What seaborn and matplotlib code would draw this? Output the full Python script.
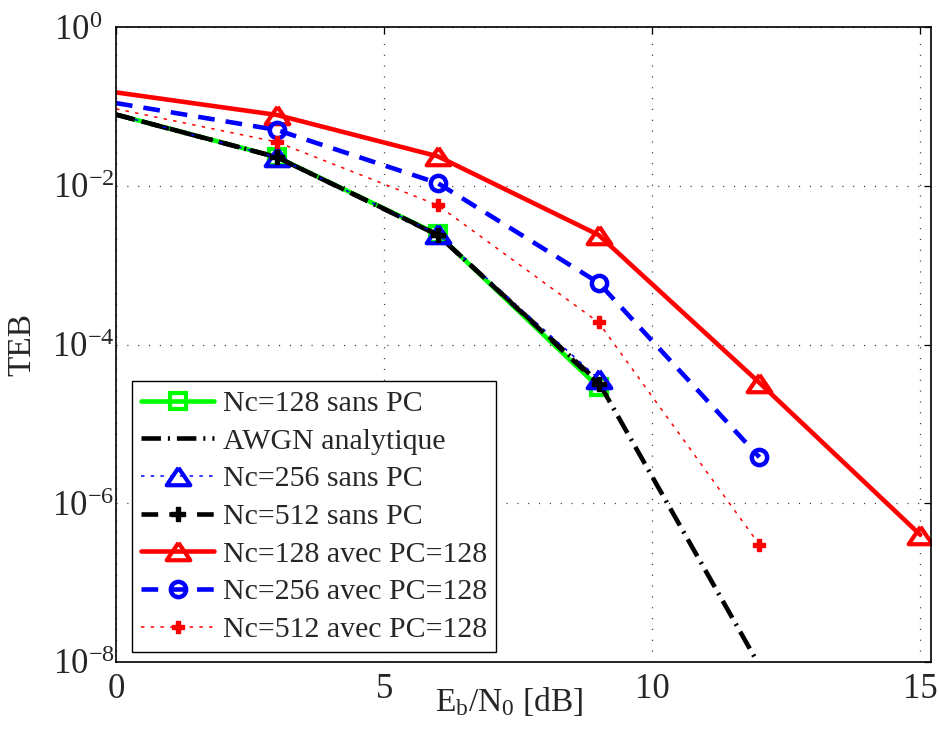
import math
import matplotlib
matplotlib.use("Agg")
import matplotlib.pyplot as plt
import seaborn as sns
from matplotlib.ticker import NullLocator, FuncFormatter
from matplotlib.transforms import ScaledTranslation

# Eb/N0 axes (dB) for each curve
ebn0_sim = [0, 3, 6, 9]
ebn0_awgn = [0, 3, 6, 9, 12]
ebn0_pc128 = [0, 3, 6, 9, 12, 15]
ebn0_pc256 = [0, 3, 6, 9, 12]
ebn0_pc512 = [0, 3, 6, 9, 12]

# bit error rates
teb_nc128 = [0.079, 0.0230, 0.00245, 2.9e-5]
teb_awgn = [7.86e-2, 2.29e-2, 2.39e-3, 3.36e-5, 9.0e-9]
teb_nc256 = [0.079, 0.0228, 0.00245, 3.7e-5]
teb_nc512 = [0.079, 0.0229, 0.00242, 3.2e-5]
teb_nc128_pc = [0.150, 0.078, 0.0235, 0.0024, 3.3e-5, 4.0e-7]
teb_nc256_pc = [0.110, 0.0505, 0.0108, 6.0e-4, 3.8e-6]
teb_nc512_pc = [0.093, 0.0356, 0.0057, 1.9e-4, 3.0e-7]

labels = [
    "Nc=128 sans PC",
    "AWGN analytique",
    "Nc=256 sans PC",
    "Nc=512 sans PC",
    "Nc=128 avec PC=128",
    "Nc=256 avec PC=128",
    "Nc=512 avec PC=128",
]
x_ticks = [0, 5, 10, 15]
y_exponents = [0, -2, -4, -6, -8]

sns.set_style("white")
plt.rcParams["font.family"] = ["Liberation Serif", "DejaVu Serif"]
plt.rcParams["mathtext.fontset"] = "custom"
plt.rcParams["mathtext.rm"] = "Liberation Serif"
plt.rcParams["mathtext.it"] = "Liberation Serif:italic"
plt.rcParams["mathtext.bf"] = "Liberation Serif:bold"
plt.rcParams["lines.scale_dashes"] = False

fig = plt.figure(figsize=(9.39, 7.30), dpi=100)
ax = fig.add_axes([116 / 939, 68 / 730, 815 / 939, 635 / 730])

# wide open triangle
tri = [(0, 0.74), (-1, -0.74), (1, -0.74), (0, 0.74)]

LW = 3.3
dashed = (0, (12, 8))
dashdot = (0, (14, 5, 1.5, 5))
dotted = (0, (2.5, 4.5))
skip0 = slice(1, None)

common = dict(ax=ax, sort=False, estimator=None, errorbar=None)

sns.lineplot(x=ebn0_sim, y=teb_nc128, color=(0, 1, 0), linewidth=LW,
             linestyle="-", marker="s", markersize=11, markeredgewidth=3,
             markeredgecolor=(0, 1, 0), markerfacecolor="none",
             markevery=skip0, label=labels[0], **common)
sns.lineplot(x=ebn0_awgn, y=teb_awgn, color="black", linewidth=LW,
             linestyle=dashdot, label=labels[1], **common)
sns.lineplot(x=ebn0_sim, y=teb_nc256, color="blue", linewidth=1.1,
             linestyle=dotted, marker=tri, markersize=17, markeredgewidth=3,
             markeredgecolor="blue", markerfacecolor="none",
             markevery=skip0, label=labels[2], **common)
sns.lineplot(x=ebn0_sim, y=teb_nc512, color="black", linewidth=LW,
             linestyle=dashed, marker="P", markersize=10, markeredgewidth=1,
             markeredgecolor="black", markerfacecolor="black",
             markevery=skip0, label=labels[3], **common)
sns.lineplot(x=ebn0_pc128, y=teb_nc128_pc, color="red", linewidth=LW,
             linestyle="-", marker=tri, markersize=17, markeredgewidth=3,
             markeredgecolor="red", markerfacecolor="none",
             markevery=skip0, label=labels[4], **common)
sns.lineplot(x=ebn0_pc256, y=teb_nc256_pc, color="blue", linewidth=LW,
             linestyle=dashed, marker="o", markersize=11, markeredgewidth=3.2,
             markeredgecolor="blue", markerfacecolor="none",
             markevery=skip0, label=labels[5], **common)
sns.lineplot(x=ebn0_pc512, y=teb_nc512_pc, color="red", linewidth=1.1,
             linestyle=dotted, marker="P", markersize=9, markeredgewidth=1,
             markeredgecolor="red", markerfacecolor="red",
             markevery=skip0, label=labels[6], **common)

ax.set_yscale("log")
ax.set_xlim(0, 15.2)
ax.set_ylim(1e-8, 1e0)
ax.set_xticks(x_ticks)
ax.set_yticks([10.0 ** e for e in y_exponents])
ax.yaxis.set_minor_locator(NullLocator())
ax.xaxis.set_minor_locator(NullLocator())


def decade_label(v, pos):
    e = int(round(math.log10(v)))
    return r"$\mathdefault{10^{%d}}$" % e


ax.yaxis.set_major_formatter(FuncFormatter(decade_label))

ax.grid(True, which="major", linestyle=(0, (0.8, 7)), color="0.2", linewidth=0.9)
ax.set_axisbelow(True)
for sp in ax.spines.values():
    sp.set_visible(True)
    sp.set_color("black")
    sp.set_linewidth(1.2)

ax.tick_params(which="major", direction="in", top=True, right=True,
               length=5, width=0.9, labelsize=25, color="black")
ax.tick_params(axis="x", pad=8)
ax.tick_params(axis="y", pad=1)

ax.set_xlabel(r"$\mathregular{E_b/N_0}$ [dB]", fontsize=24)
ax.xaxis.set_label_coords(0.483, -0.037)
ax.set_ylabel("TEB", fontsize=24)
ax.yaxis.set_label_coords(-0.097, 0.5)

leg = ax.legend(loc="lower left", bbox_to_anchor=(0.0196, 0.0157),
                borderaxespad=0, frameon=True, fancybox=False,
                edgecolor="black", framealpha=1, fontsize=21.5,
                handlelength=2.45, handletextpad=0.3, labelspacing=0.36,
                borderpad=0.3)
leg.get_frame().set_linewidth(1.0)

# keep the "10" of the 10^0 label aligned with the other decades
fig.canvas.draw()
for tick in ax.yaxis.get_major_ticks():
    if abs(tick.get_loc() - 1.0) < 1e-12:
        lab = tick.label1
        lab.set_transform(lab.get_transform()
                          + ScaledTranslation(-12 / 100, 0, fig.dpi_scale_trans))

fig.savefig("out.png", dpi=100, facecolor="white")
